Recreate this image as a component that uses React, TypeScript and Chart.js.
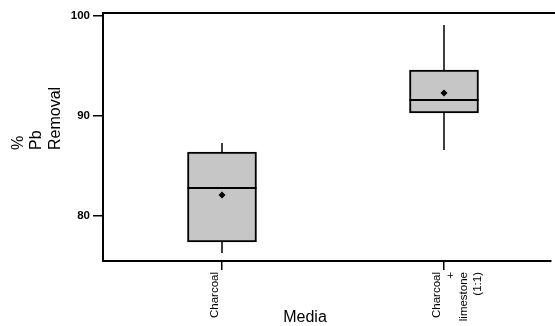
import React, { useEffect, useRef } from "react";
import { Chart, registerables } from "chart.js";

Chart.register(...registerables);

const categories: string[][] = [["Charcoal"], ["Charcoal", "+", "limestone", "(1:1)"]];
const positions = [1, 2];
const whiskerLow = [76.3, 86.6];
const q1 = [77.4, 90.3];
const median = [82.8, 91.6];
const q3 = [86.4, 94.6];
const whiskerHigh = [87.3, 99.1];
const means = [82.1, 92.3];
const yTicks = [80, 90, 100];
const yTitle = ["%", "Pb", "Removal"];
const xTitle = "Media";

const FONT = "'Liberation Sans', Arial, sans-serif";

const boxPlugin = {
  id: "boxExtras",
  afterDatasetsDraw(chart: any) {
    const { ctx, chartArea } = chart;
    const x = chart.scales.x;
    const y = chart.scales.y;
    const bars = chart.getDatasetMeta(0).data;
    ctx.save();
    ctx.strokeStyle = "#000";
    positions.forEach((p, i) => {
      const px = x.getPixelForValue(p);
      ctx.lineWidth = 1.5;
      ctx.beginPath();
      ctx.moveTo(px, y.getPixelForValue(whiskerHigh[i]));
      ctx.lineTo(px, y.getPixelForValue(q3[i]));
      ctx.moveTo(px, y.getPixelForValue(q1[i]));
      ctx.lineTo(px, y.getPixelForValue(whiskerLow[i]));
      ctx.stroke();
      const half = bars[i].width / 2;
      const my = y.getPixelForValue(median[i]);
      ctx.lineWidth = 2;
      ctx.beginPath();
      ctx.moveTo(px - half, my);
      ctx.lineTo(px + half, my);
      ctx.stroke();
    });
    ctx.lineWidth = 2;
    ctx.beginPath();
    ctx.moveTo(chartArea.left, chartArea.top);
    ctx.lineTo(chartArea.right + 10, chartArea.top);
    ctx.stroke();
    ctx.restore();
  },
  afterDraw(chart: any) {
    const { ctx, chartArea } = chart;
    ctx.save();
    ctx.fillStyle = "#000";
    ctx.font = `16px ${FONT}`;
    const xs = [-84, -66, -47];
    yTitle.forEach((t, i) => {
      ctx.save();
      ctx.translate(chartArea.left + xs[i], 150);
      ctx.rotate(-Math.PI / 2);
      ctx.textAlign = "left";
      ctx.textBaseline = "middle";
      ctx.fillText(t, 0, 0);
      ctx.restore();
    });
    ctx.textAlign = "center";
    ctx.textBaseline = "middle";
    ctx.fillText(xTitle, chartArea.left + 202, 318);
    ctx.restore();
  },
};

export default function App() {
  const ref = useRef<HTMLCanvasElement | null>(null);
  useEffect(() => {
    if (!ref.current) return;
    const chart = new Chart(ref.current, {
      type: "bar",
      data: {
        datasets: [
          {
            type: "bar",
            order: 2,
            data: positions.map((p, i) => ({ x: p, y: [q1[i], q3[i]] })) as any,
            backgroundColor: "#c6c6c6",
            borderColor: "#000",
            borderWidth: 2,
            borderSkipped: false,
            barThickness: 69,
            grouped: false,
          } as any,
          {
            type: "scatter",
            order: 1,
            data: positions.map((p, i) => ({ x: p, y: means[i] })),
            pointStyle: "rectRot",
            pointRadius: 3.5,
            pointBackgroundColor: "#000",
            pointBorderColor: "#000",
            pointBorderWidth: 0,
          } as any,
        ],
      },
      options: {
        animation: false,
        responsive: true,
        maintainAspectRatio: false,
        layout: { padding: { top: 13, left: 0, right: 0, bottom: 0 } },
        plugins: { legend: { display: false }, tooltip: { enabled: false } },
        scales: {
          x: {
            type: "linear",
            offset: false,
            min: 0.464,
            max: 2.482,
            afterBuildTicks: (s: any) => {
              s.ticks = positions.map((v) => ({ value: v }));
            },
            afterFit: (s: any) => {
              s.height = 65;
            },
            ticks: {
              autoSkip: false,
              minRotation: 90,
              maxRotation: 90,
              padding: 2,
              labelOffset: -7,
              color: "#000",
              font: { family: FONT, size: 11.5, lineHeight: 1.18 },
              callback: (v: any) => categories[positions.indexOf(Number(v))] ?? "",
            },
            grid: {
              offset: false,
              drawOnChartArea: false,
              drawTicks: true,
              tickLength: 9,
              color: "#000",
              lineWidth: 1.5,
            },
            border: { display: true, color: "#000", width: 2 },
          },
          y: {
            type: "linear",
            min: 75.5,
            max: 100.3,
            afterBuildTicks: (s: any) => {
              s.ticks = yTicks.map((v) => ({ value: v }));
            },
            afterFit: (s: any) => {
              s.width = 103;
            },
            ticks: {
              color: "#000",
              padding: 3,
              font: { family: FONT, size: 11.5, weight: "bold" },
            },
            grid: {
              drawOnChartArea: false,
              drawTicks: true,
              tickLength: 10,
              color: "#000",
              lineWidth: 1.5,
            },
            border: { display: true, color: "#000", width: 2 },
          },
        },
      },
      plugins: [boxPlugin],
    } as any);
    return () => chart.destroy();
  }, []);
  return (
    <div style={{ position: "absolute", left: 0, top: 0, width: 555, height: 326 }}>
      <canvas ref={ref} />
    </div>
  );
}
